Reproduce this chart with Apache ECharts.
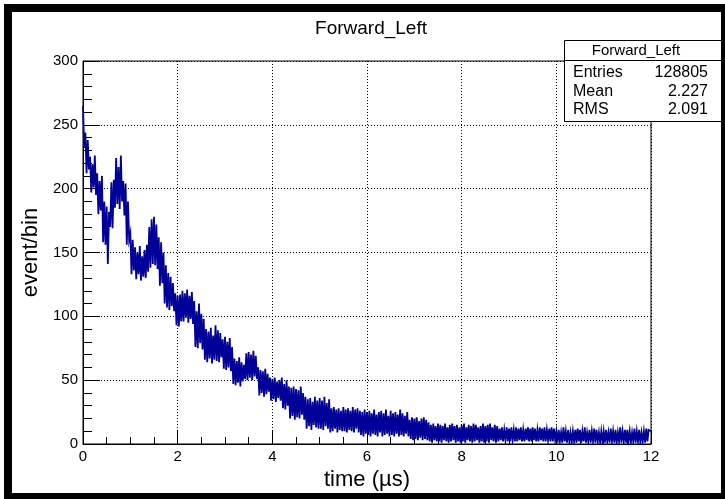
<!DOCTYPE html>
<html>
<head>
<meta charset="utf-8">
<script src="https://cdn.jsdelivr.net/npm/echarts@6/dist/echarts.min.js"></script>
<style>
html,body{margin:0;padding:0;background:#fff;}
#chart{width:725px;height:499px;}
</style>
</head>
<body>
<div id="chart"></div>
<script>
// Histogram "Forward_Left": bin width 0.025 us, 0..12 us
const binWidth = 0.025;
const xTicks = [0, 2, 4, 6, 8, 10, 12];
const yTicks = [0, 50, 100, 150, 200, 250, 300];
const counts_0_1 = [265,232,244,212,238,215,225,197,219,201,226,195,212,180,206,183,210,158,190,156,
                    186,141,182,170,205,169,207,185,224,188,217,184,226,190,206,179,204,156,190,160];
const counts_1_2 = [165,133,160,136,154,129,150,133,155,128,147,131,152,130,156,135,170,138,176,141,
                    178,140,172,137,162,124,158,126,150,110,140,107,134,105,131,108,126,104,118,93];
const counts_2_3 = [116,92,117,96,120,96,118,99,121,95,116,98,119,94,112,76,104,75,110,79,
                    102,74,98,66,90,64,88,67,91,63,85,66,93,65,89,64,87,68,82,59];
const counts_3_4 = [84,58,80,60,83,57,76,47,67,46,65,48,68,45,64,49,62,51,71,50,
                    72,52,70,50,73,53,69,51,60,38,58,40,57,37,59,39,55,41,52,34];
const counts_4_5 = [51,35,52,33,49,36,50,34,52,28,47,27,50,30,45,20,44,22,45,19,
                    43,21,42,20,45,23,40,19,37,12,35,14,36,11,33,15,37,13,34,12];
const counts_5_6 = [36,12,34,11,37,14,32,12,35,9,28,10,29,12,27,9,28,11,26,10,
                    29,10,27,9,28,11,26,10,29,9,27,12,28,9,26,7,25,6,27,8];
const counts_6_7 = [25,7,26,6,24,8,27,7,23,6,25,9,26,6,24,7,27,8,22,6,
                    26,7,24,6,25,8,23,6,27,7,24,6,22,8,25,6,19,4,21,3];
const counts_7_8 = [20,4,21,3,18,5,20,3,21,4,19,3,17,2,15,1,16,3,14,2,
                    16,2,15,1,14,3,16,2,13,1,15,2,16,3,14,1,15,2,13,1];
const counts_8_9 = [15,2,16,1,13,3,15,2,14,1,16,2,15,3,13,1,14,2,16,1,
                    14,2,15,1,16,3,13,2,15,1,14,2,12,3,13,2,11,3,13,2];
const counts_9_10 = [12,2,13,3,11,2,13,2,12,3,13,2,11,2,12,3,13,2,12,2,
                     13,3,12,2,11,2,13,3,12,2,13,2,11,3,12,2,13,2,12,3];
const counts_10_11 = [10,1,11,2,9,1,13,2,10,1,11,2,9,1,10,2,11,1,12,2,
                      11,1,10,2,13,1,9,2,11,1,10,2,12,1,11,2,9,1,10,2];
const counts_11_12 = [10,1,11,2,9,1,12,2,10,1,11,1,9,2,13,1,10,2,11,1,
                      11,2,10,1,9,2,12,1,10,2,11,1,9,2,10,1,12,2,11,10];
const statsTitle = 'Forward_Left';
const statsRows = [['Entries', '128805'], ['Mean', '2.227'], ['RMS', '2.091']];

const counts = [].concat(counts_0_1, counts_1_2, counts_2_3, counts_3_4, counts_4_5, counts_5_6,
  counts_6_7, counts_7_8, counts_8_9, counts_9_10, counts_10_11, counts_11_12);
const histData = counts.map((v, i) => [+(i * binWidth).toFixed(4), v]);
histData.push([+(counts.length * binWidth).toFixed(4), counts[counts.length - 1]]);

const FONT = '"Liberation Sans", Arial, Helvetica, sans-serif';
const chart = echarts.init(document.getElementById('chart'), null, {renderer: 'canvas'});

const statsGraphics = [
  {type: 'rect', shape: {x: 564.5, y: 40.5, width: 170, height: 81}, style: {fill: '#fff', stroke: '#000', lineWidth: 1}, z: 10},
  {type: 'line', shape: {x1: 564.5, y1: 60.5, x2: 725, y2: 60.5}, style: {stroke: '#000', lineWidth: 1}, z: 11},
  {type: 'text', x: 636, y: 51, style: {text: statsTitle, font: '15px ' + FONT, fill: '#000', align: 'center', verticalAlign: 'middle'}, z: 11}
];
statsRows.forEach((r, i) => {
  const yy = 73 + i * 18.5;
  statsGraphics.push({type: 'text', x: 573, y: yy, style: {text: r[0], font: '16px ' + FONT, fill: '#000', align: 'left', verticalAlign: 'middle'}, z: 11});
  statsGraphics.push({type: 'text', x: 708, y: yy, style: {text: r[1], font: '16px ' + FONT, fill: '#000', align: 'right', verticalAlign: 'middle'}, z: 11});
});
statsGraphics.push({type: 'rect', shape: {x: 8, y: 8, width: 717, height: 489}, style: {fill: 'none', stroke: '#000', lineWidth: 8}, z: 20});

chart.setOption({
  animation: false,
  backgroundColor: '#fff',
  title: {
    text: 'Forward_Left', left: 366, top: 14, textAlign: 'center',
    textStyle: {fontFamily: FONT, fontSize: 19, fontWeight: 'normal', color: '#000'}
  },
  grid: {left: 83, top: 61, width: 568, height: 383, containLabel: false, outerBoundsMode: 'none',
         show: true, borderColor: '#000', borderWidth: 1, backgroundColor: 'transparent'},
  xAxis: {
    type: 'value', min: xTicks[0], max: xTicks[xTicks.length - 1], interval: xTicks[1] - xTicks[0],
    name: 'time (\u00b5s)', nameLocation: 'middle', nameGap: 13,
    nameTextStyle: {fontFamily: FONT, fontSize: 22, color: '#000'},
    axisLine: {show: true, onZero: false, lineStyle: {color: '#000', width: 1}},
    axisTick: {show: true, inside: true, length: 13, lineStyle: {color: '#000'}},
    minorTick: {show: true, splitNumber: 4, length: 7, lineStyle: {color: '#000'}},
    axisLabel: {fontFamily: FONT, fontSize: 15, color: '#000', margin: 5, showMinLabel: true, showMaxLabel: true, hideOverlap: false},
    splitLine: {show: true, lineStyle: {color: '#000', type: [1, 2], width: 1}}
  },
  yAxis: {
    type: 'value', min: yTicks[0], max: yTicks[yTicks.length - 1], interval: yTicks[1] - yTicks[0],
    name: 'event/bin', nameLocation: 'middle', nameGap: 34,
    nameTextStyle: {fontFamily: FONT, fontSize: 22, color: '#000'},
    axisLine: {show: true, onZero: false, lineStyle: {color: '#000', width: 1}},
    axisTick: {show: true, inside: true, length: 17, lineStyle: {color: '#000'}},
    minorTick: {show: true, splitNumber: 5, length: 9, lineStyle: {color: '#000'}},
    axisLabel: {fontFamily: FONT, fontSize: 15, color: '#000', margin: 5, showMinLabel: true, showMaxLabel: true, hideOverlap: false},
    splitLine: {show: true, lineStyle: {color: '#000', type: [1, 2], width: 1}}
  },
  series: [{
    type: 'line', step: 'end', data: histData, showSymbol: false, symbol: 'none',
    lineStyle: {color: '#000099', width: 1.8, join: 'miter', cap: 'butt'}, itemStyle: {color: '#000099'}, z: 3
  }],
  graphic: statsGraphics
});
</script>
</body>
</html>
